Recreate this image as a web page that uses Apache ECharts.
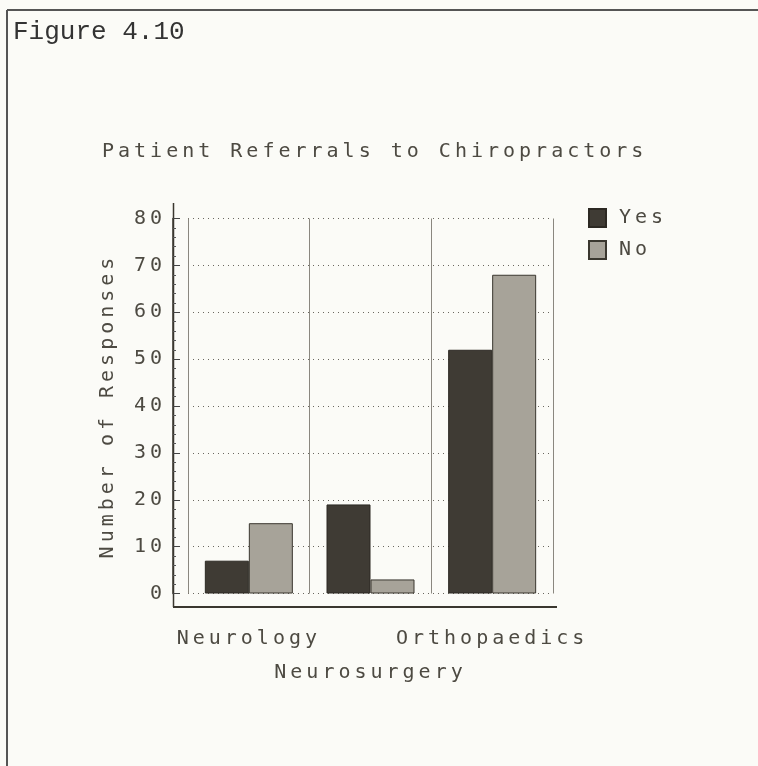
<!DOCTYPE html>
<html>
<head>
<meta charset="utf-8">
<script src="https://cdn.jsdelivr.net/npm/echarts@6/dist/echarts.min.js"></script>
<style>
html,body{margin:0;padding:0;background:#fbfbf7;}
#c{width:758px;height:766px;}
</style>
</head>
<body>
<div id="c"></div>
<script>
// ---- data ----
const categories = ['Neurology', 'Neurosurgery', 'Orthopaedics'];
const yesValues = [7, 19, 52];
const noValues = [15, 3, 68];
const seriesNames = ['Yes', 'No'];
const yTicks = [0, 10, 20, 30, 40, 50, 60, 70, 80];

// letter spacing for the plotter-style text (monospace family only)
(function(){
  const proto = CanvasRenderingContext2D.prototype;
  const orig = proto.fillText;
  proto.fillText = function(t, x, y, m){
    if ('letterSpacing' in this) {
      this.letterSpacing = /Sans Mono/.test(this.font) ? '4px' : '0px';
    }
    return m === undefined ? orig.call(this, t, x, y) : orig.call(this, t, x, y, m);
  };
})();

const TXT = '#4d4a42';
const FONT = 'DejaVu Sans Mono';

const chart = echarts.init(document.getElementById('c'), null, {renderer: 'canvas'});
chart.setOption({
  backgroundColor: '#fbfbf7',
  animation: false,
  title: [
    {text: 'Patient Referrals to Chiropractors', left: 97, top: 137,
     textStyle: {fontFamily: FONT, fontSize: 20, fontWeight: 'normal', color: TXT}},
    {text: 'Figure 4.10', left: 8, top: 14,
     textStyle: {fontFamily: 'Liberation Mono', fontSize: 26, fontWeight: 'normal', color: '#333'}}
  ],
  legend: {
    data: seriesNames, orient: 'vertical', left: 583, top: 203,
    itemWidth: 17, itemHeight: 18, itemGap: 12, icon: 'rect',
    textStyle: {fontFamily: FONT, fontSize: 20, color: TXT, padding: [0, 0, 0, 8]}
  },
  grid: {left: 188, right: 205, top: 218.5, bottom: 172.5, containLabel: false},
  xAxis: {
    type: 'category', data: categories, offset: 14,
    axisLine: {show: false},
    axisTick: {show: false},
    splitLine: {show: true, lineStyle: {color: '#8a877f', width: 1}},
    axisLabel: {
      interval: 0, margin: 14, fontFamily: FONT, fontSize: 20, color: TXT, lineHeight: 34,
      formatter: function(v, i){ return i % 2 === 1 ? '\n' + v : v; }
    }
  },
  yAxis: {
    type: 'value', min: yTicks[0], max: yTicks[yTicks.length - 1], interval: 10, offset: 15,
    name: 'Number of Responses', nameLocation: 'middle', nameGap: 55,
    nameTextStyle: {fontFamily: FONT, fontSize: 20, color: TXT},
    axisLine: {show: true, lineStyle: {color: '#3a372f', width: 1.5}},
    axisTick: {show: true, inside: true, length: 7, lineStyle: {color: '#444'}},
    minorTick: {show: true, splitNumber: 5, length: 3, lineStyle: {color: '#555'}},
    splitLine: {show: true, lineStyle: {color: '#6a675f', type: [1, 4], width: 1}},
    axisLabel: {margin: 7, fontFamily: FONT, fontSize: 20, color: TXT}
  },
  series: [
    {name: seriesNames[0], type: 'bar', data: yesValues, barWidth: 44, barGap: '0%',
     itemStyle: {color: '#3f3b34', borderColor: '#2c2923', borderWidth: 1}},
    {name: seriesNames[1], type: 'bar', data: noValues, barWidth: 44,
     itemStyle: {color: '#a7a399', borderColor: '#3a372f', borderWidth: 1}}
  ],
  graphic: [
    {type: 'line', shape: {x1: 7, y1: 10, x2: 758, y2: 10}, style: {stroke: '#555', lineWidth: 2}},
    {type: 'line', shape: {x1: 7, y1: 10, x2: 7, y2: 766}, style: {stroke: '#555', lineWidth: 2}},
    {type: 'line', shape: {x1: 173.5, y1: 203, x2: 173.5, y2: 607}, style: {stroke: '#3a372f', lineWidth: 1.5}},
    {type: 'line', shape: {x1: 173, y1: 607, x2: 557, y2: 607}, style: {stroke: '#3a372f', lineWidth: 2}}
  ]
});
</script>
</body>
</html>
